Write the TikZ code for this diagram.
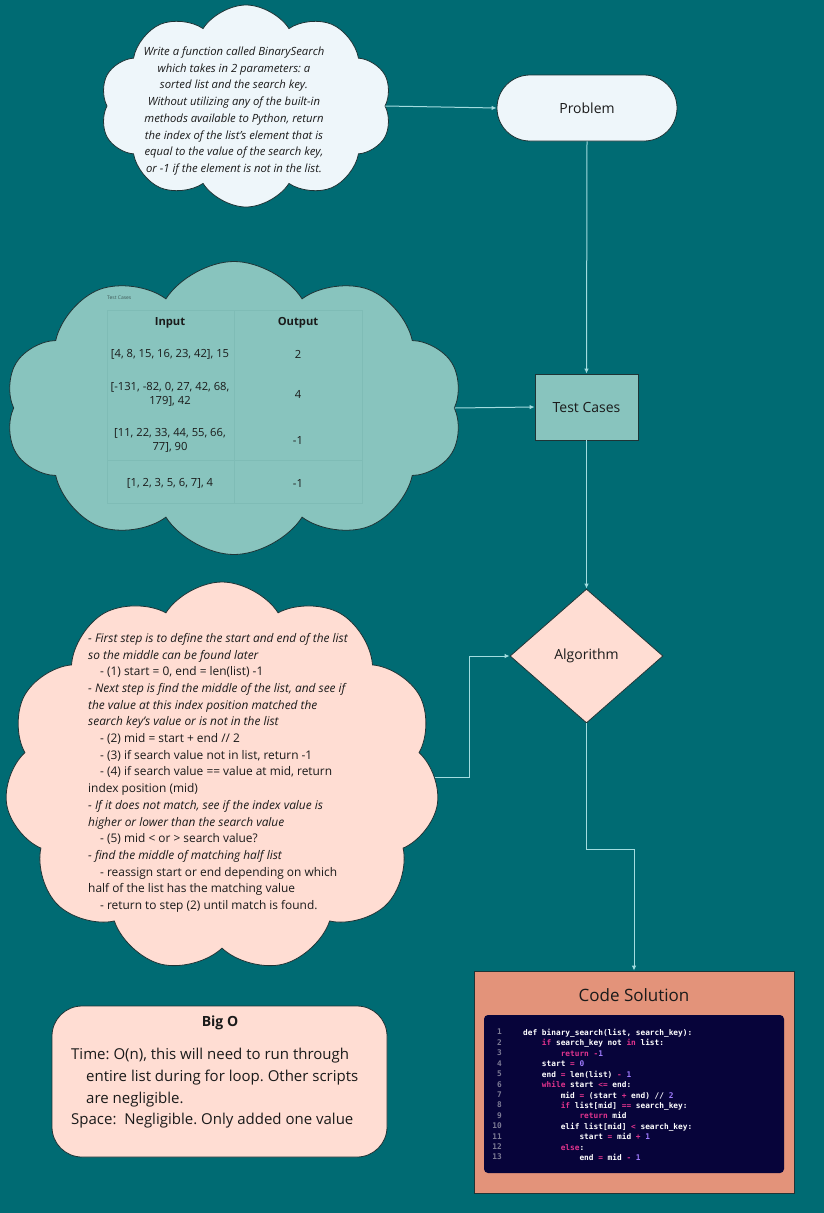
\documentclass[tikz,border=0pt]{standalone}
\usepackage{fontspec}
\setmainfont{Open Sans}
\setmonofont{DejaVu Sans Mono}
\usetikzlibrary{shapes.symbols,shapes.geometric,arrows.meta}
\definecolor{bg}{HTML}{006B73}
\definecolor{pfill}{HTML}{EEF6FA}
\definecolor{tfill}{HTML}{88C4BE}
\definecolor{tline}{HTML}{7FBCB6}
\definecolor{afill}{HTML}{FFDDD3}
\definecolor{cfill}{HTML}{E3937A}
\definecolor{navy}{HTML}{07043A}
\definecolor{conn}{HTML}{A3DCDF}
\definecolor{edge}{HTML}{1E3436}
\definecolor{txt}{HTML}{1A1A1A}
\definecolor{kwc}{HTML}{E0338D}
\definecolor{nmc}{HTML}{A07CFF}
\definecolor{lnc}{HTML}{7D7B95}
\newcommand{\kw}[1]{\textcolor{kwc}{#1}}
\newcommand{\nm}[1]{\textcolor{nmc}{#1}}
\newcommand{\Ia}{\hspace*{2.408em}}
\frenchspacing
\begin{document}
\begin{tikzpicture}[x=1pt,y=-1pt,
  cloudbox/.style={cloud, cloud puffs=10, cloud puff arc=115, cloud ignores aspect, draw=edge, line width=0.8pt, inner sep=0pt},
  flowbox/.style={draw=edge, line width=0.8pt, inner sep=0pt, text=txt, font=\fontsize{14}{17}\selectfont},
  conn/.style={draw=conn, line width=1pt, -{Latex[length=5pt,width=4.5pt]}},
  body/.style={text=txt, inner sep=0pt}]
\fill[bg] (0,0) rectangle (824,1213);
\useasboundingbox (0,0) rectangle (824,1213);

% Problem cloud
\node[cloudbox, fill=pfill, minimum width=292pt, minimum height=202pt] (pc) at (246,106) {};
\node[body, align=center, font=\fontsize{11.3}{16.7}\selectfont\itshape] (pct) at (234,111) {Write a function called BinarySearch\\which takes in 2 parameters: a\\sorted list and the search key.\\Without utilizing any of the built-in\\methods available to Python, return\\the index of the list’s element that is\\equal to the value of the search key,\\or -1 if the element is not in the list.};

% Problem stadium
\node[flowbox, fill=pfill, rounded corners=33pt, minimum width=180pt, minimum height=66pt] (prob) at (587,108) {Problem};

% Test cases cloud
\node[cloudbox, fill=tfill, minimum width=458pt, minimum height=293pt] (tcc) at (234,408) {};
\node[body, text=black!55!tfill, font=\fontsize{5}{6}\selectfont, anchor=west] (tcl) at (107,298) {Test Cases};
\draw[tline, line width=0.6pt] (107,310) rectangle (362,503);
\draw[tline, line width=0.6pt] (234,310) -- (234,503);
\draw[tline, line width=0.6pt] (107,460) -- (362,460);
\begin{scope}[every node/.style={body, align=center, font=\fontsize{11.2}{14}\selectfont}]
\node[font=\fontsize{11.2}{14}\selectfont\bfseries] (hin) at (170,323) {Input};
\node[font=\fontsize{11.2}{14}\selectfont\bfseries] (hout) at (298,323) {Output};
\node (i1) at (170,354) {[4, 8, 15, 16, 23, 42], 15};
\node (o1) at (298,354) {2};
\node (i2) at (170,394) {[-131, -82, 0, 27, 42, 68,\\179], 42};
\node (o2) at (298,394) {4};
\node (i3) at (170,440) {[11, 22, 33, 44, 55, 66,\\77], 90};
\node (o3) at (298,440) {-1};
\node (i4) at (170,483) {[1, 2, 3, 5, 6, 7], 4};
\node (o4) at (298,483) {-1};
\end{scope}

% Test Cases box
\node[flowbox, fill=tfill, minimum width=103pt, minimum height=66pt] (tc) at (586.5,407) {Test Cases};

% Algorithm cloud
\node[cloudbox, fill=afill, minimum width=435pt, minimum height=390pt, cloud puffs=11] (ac) at (222,777) {};
\node[body, align=left, anchor=north west, font=\fontsize{11.9}{16.7}\selectfont] (act) at (88,633) {%
\textit{- First step is to define the start and end of the list}\\
\textit{so the middle can be found later}\\
\hspace*{12pt}- (1) start = 0, end = len(list) -1\\
\textit{- Next step is find the middle of the list, and see if}\\
\textit{the value at this index position matched the}\\
\textit{search key's value or is not in the list}\\
\hspace*{12pt}- (2) mid = start + end // 2\\
\hspace*{12pt}- (3) if search value not in list, return -1\\
\hspace*{12pt}- (4) if search value == value at mid, return\\
index position (mid)\\
\textit{- If it does not match, see if the index value is}\\
\textit{higher or lower than the search value}\\
\hspace*{12pt}- (5) mid < or > search value?\\
\textit{- find the middle of matching half list}\\
\hspace*{12pt}- reassign start or end depending on which\\
half of the list has the matching value\\
\hspace*{12pt}- return to step (2) until match is found.};

% Algorithm diamond
\node[flowbox, diamond, fill=afill, minimum width=153pt, minimum height=134pt, label={[text=txt, font=\fontsize{14}{17}\selectfont]center:Algorithm}] (alg) at (586.5,656) {};

% Big O
\node[draw=edge, line width=0.8pt, fill=afill, rounded corners=30pt, minimum width=335pt, minimum height=151pt] (bigo) at (219.5,1081.5) {};
\node[body, font=\fontsize{14}{17}\selectfont\bfseries] (bigot) at (220,1023) {Big O};
\node[body, align=left, anchor=north west, font=\fontsize{15}{21.7}\selectfont] (bigob) at (71,1048) {%
Time: O(n), this will need to run through\\
\hspace*{15pt}entire list during for loop. Other scripts\\
\hspace*{15pt}are negligible.\\
Space:\ \ Negligible. Only added one value};

% Code solution
\node[draw=edge, line width=0.8pt, fill=cfill, minimum width=320pt, minimum height=222pt] (code) at (634,1082) {};
\node[body, font=\fontsize{17}{20}\selectfont] (codet) at (634,995) {Code Solution};
\node[fill=navy, rounded corners=4pt, minimum width=300pt, minimum height=158pt, inner sep=0pt] (panel) at (634,1094) {};
\node[body, text=lnc, align=right, anchor=north east, font=\fontsize{7.8}{10.42}\selectfont\ttfamily\bfseries] (lnum) at (502,1029) {1\\2\\3\\4\\5\\6\\7\\8\\9\\10\\11\\12\\13};
\node[body, text=white, align=left, anchor=north west, font=\fontsize{7.8}{10.42}\selectfont\ttfamily\bfseries] (src) at (523,1029) {%
def binary\_search(list, search\_key):\\
\Ia\kw{if} search\_key not \kw{in} list:\\
\Ia\Ia\kw{return -}\nm{1}\\
\Ia start \kw{=} \nm{0}\\
\Ia end \kw{=} len(list) \kw{-} \nm{1}\\
\Ia\kw{while} start \kw{<=} end:\\
\Ia\Ia mid \kw{=} (start \kw{+} end) // \nm{2}\\
\Ia\Ia\kw{if} list[mid] \kw{==} search\_key:\\
\Ia\Ia\Ia\kw{return} mid\\
\Ia\Ia elif list[mid] \kw{<} search\_key:\\
\Ia\Ia\Ia start \kw{=} mid \kw{+} \nm{1}\\
\Ia\Ia\kw{else}:\\
\Ia\Ia\Ia end \kw{=} mid \kw{-} \nm{1}};

% connectors
\draw[conn] (pc.east) -- (prob.west);
\draw[conn] (prob.south) -- (tc.north);
\draw[conn] (tcc.east) -- (tc.west);
\draw[conn] (tc.south) -- (alg.north);
\draw[conn] (ac.east) -- ++(34,0) |- (alg.west);
\draw[conn] (alg.south) -- ++(0,126) -| (code.north);
\end{tikzpicture}
\end{document}
